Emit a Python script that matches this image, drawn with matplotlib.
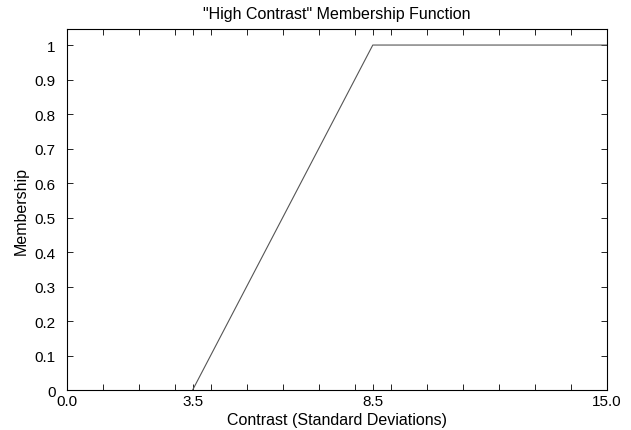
import matplotlib
matplotlib.use("Agg")
import matplotlib.pyplot as plt

# membership function breakpoints
contrast = [3.5, 8.5, 15.0]
membership = [0.0, 1.0, 1.0]

x_major = [0.0, 3.5, 8.5, 15.0]
x_major_labels = ["0.0", "3.5", "8.5", "15.0"]
x_minor = list(range(1, 15))
y_ticks = [i / 10 for i in range(11)]
y_labels = ["0"] + [f"{v:.1f}" for v in y_ticks[1:10]] + ["1"]

plt.rcParams['font.family'] = ['Liberation Sans', 'DejaVu Sans']

fig = plt.figure(figsize=(6.31, 4.31), dpi=100)
ax = fig.add_axes([0.1054, 0.0928, 0.8566, 0.8372])

ax.plot(contrast, membership, color='#555555', linewidth=0.8)

ax.set_xlim(0, 15)
ax.set_ylim(0, 1.046)
ax.set_xticks(x_major)
ax.set_xticklabels(x_major_labels)
ax.set_xticks(x_minor, minor=True)
ax.set_yticks(y_ticks)
ax.set_yticklabels(y_labels)

ax.tick_params(which='both', direction='in', top=True, right=True,
               length=4, width=0.6, labelsize=11)
ax.tick_params(axis='x', pad=3)
ax.tick_params(axis='y', pad=8)
for s in ax.spines.values():
    s.set_linewidth(0.8)

ax.set_title('"High Contrast" Membership Function', fontsize=11.5, pad=8)
ax.set_xlabel('Contrast (Standard Deviations)', fontsize=11.5, labelpad=3)
ax.set_ylabel('Membership', fontsize=11.5, labelpad=4)

fig.savefig('out.png', dpi=100)
